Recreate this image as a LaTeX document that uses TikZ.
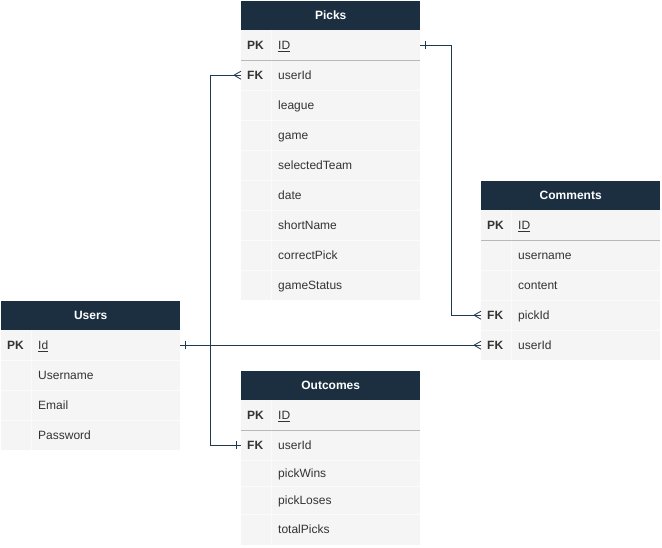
\documentclass[tikz,border=0pt]{standalone}
\usepackage{fontspec}
\setmainfont{Liberation Sans}
\begin{document}
\begin{tikzpicture}[x=1pt,y=-1pt,
  hdr/.style={fill=hdrcol, draw=none, text=white, font=\bfseries\fontsize{12}{14}\selectfont, minimum width=179pt, minimum height=29pt, inner sep=0pt, anchor=north west},
  rowbox/.style={fill=bodycol, draw=none, minimum width=179pt, inner sep=0pt, anchor=north west},
  keytxt/.style={font=\bfseries\fontsize{12}{14}\selectfont, text=txtcol, anchor=base west, inner sep=0pt, yshift=-4.3pt},
  fldtxt/.style={font=\fontsize{12}{14}\selectfont, text=txtcol, anchor=base west, inner sep=0pt, yshift=-4.3pt},
  sepline/.style={draw=sepcol, line width=0.8pt},
  faint/.style={draw=white!60!bodycol, line width=0.6pt},
  conn/.style={draw=conncol, line width=0.8pt},
]
\definecolor{hdrcol}{HTML}{1B2F41}
\definecolor{bodycol}{HTML}{F5F5F5}
\definecolor{txtcol}{HTML}{333333}
\definecolor{sepcol}{HTML}{B8B8B8}
\definecolor{conncol}{HTML}{1E3A52}
\useasboundingbox[fill=white] (0,0) rectangle (662,547);

% ---------- Picks ----------
\node[hdr] (picks) at (241,1) {Picks};
\foreach \n/\k/\f [count=\i from 0] in {pid/PK/\underline{ID}, puid/FK/userId, plg//league, pgm//game, pst//selectedTeam, pdt//date, psn//shortName, pcp//correctPick, pgs//gameStatus}{
  \node[rowbox, minimum height=30pt] (\n) at (241,30+30*\i) {};
  \node[keytxt] (\n-k) at (247,45+30*\i) {\k};
  \node[fldtxt] (\n-f) at (278,45+30*\i) {\f};
}
\draw[faint] (271,30) -- (271,300);
\foreach \yy in {90,120,...,270} \draw[faint] (241,\yy) -- (420,\yy);
\draw[sepline] (241,60) -- (420,60);

% ---------- Comments ----------
\node[hdr] (comments) at (481,181) {Comments};
\foreach \n/\k/\f [count=\i from 0] in {cid/PK/\underline{ID}, cun//username, cct//content, cpk/FK/pickId, cuid/FK/userId}{
  \node[rowbox, minimum height=30pt] (\n) at (481,210+30*\i) {};
  \node[keytxt] (\n-k) at (487,225+30*\i) {\k};
  \node[fldtxt] (\n-f) at (518,225+30*\i) {\f};
}
\draw[faint] (511,210) -- (511,360);
\foreach \yy in {270,300,330} \draw[faint] (481,\yy) -- (660,\yy);
\draw[sepline] (481,240) -- (660,240);

% ---------- Users ----------
\node[hdr] (users) at (1,301) {Users};
\foreach \n/\k/\f [count=\i from 0] in {uid/PK/\underline{Id}, uun//Username, uem//Email, upw//Password}{
  \node[rowbox, minimum height=30pt] (\n) at (1,330+30*\i) {};
  \node[keytxt] (\n-k) at (7,345+30*\i) {\k};
  \node[fldtxt] (\n-f) at (38,345+30*\i) {\f};
}
\draw[faint] (31,330) -- (31,450);
\foreach \yy in {360,390,420} \draw[faint] (1,\yy) -- (180,\yy);

% ---------- Outcomes ----------
\node[hdr] (outcomes) at (241,371) {Outcomes};
\node[rowbox, minimum height=30pt] (oid) at (241,400) {};
\node[keytxt] (oid-k) at (247,415) {PK};
\node[fldtxt] (oid-f) at (278,415) {\underline{ID}};
\node[rowbox, minimum height=30pt] (ouid) at (241,430) {};
\node[keytxt] (ouid-k) at (247,445) {FK};
\node[fldtxt] (ouid-f) at (278,445) {userId};
\node[rowbox, minimum height=26pt] (opw) at (241,460) {};
\node[fldtxt] (opw-f) at (278,473) {pickWins};
\node[rowbox, minimum height=28pt] (opl) at (241,486) {};
\node[fldtxt] (opl-f) at (278,500) {pickLoses};
\node[rowbox, minimum height=31pt] (otp) at (241,514) {};
\node[fldtxt] (otp-f) at (278,529.5) {totalPicks};
\draw[faint] (271,400) -- (271,545);
\foreach \yy in {460,486,514} \draw[faint] (241,\yy) -- (420,\yy);
\draw[sepline] (241,430) -- (420,430);

% ---------- connectors ----------
\coordinate (j1) at (451,0);
\coordinate (j2) at (210,0);
% Picks.ID -> Comments.pickId
\draw[conn] (pid.east) -- (pid.east -| j1) -- (cpk.west -| j1) -- (cpk.west);
\draw[conn] ([xshift=5pt,yshift=-4pt]pid.east) -- ([xshift=5pt,yshift=4pt]pid.east);
\draw[conn] ([xshift=-7pt]cpk.west) -- ([yshift=-4pt]cpk.west);
\draw[conn] ([xshift=-7pt]cpk.west) -- ([yshift=4pt]cpk.west);
% Users.Id -> Comments.userId
\draw[conn] (uid.east) -- (cuid.west);
\draw[conn] ([xshift=5pt,yshift=-4pt]uid.east) -- ([xshift=5pt,yshift=4pt]uid.east);
\draw[conn] ([xshift=-7pt]cuid.west) -- ([yshift=-4pt]cuid.west);
\draw[conn] ([xshift=-7pt]cuid.west) -- ([yshift=4pt]cuid.west);
% Users.Id -> Picks.userId and Outcomes.userId
\draw[conn] (uid.east -| j2) -- (puid.west -| j2) -- (puid.west);
\draw[conn] (uid.east -| j2) -- (ouid.west -| j2) -- (ouid.west);
\draw[conn] ([xshift=-7pt]puid.west) -- ([yshift=-4pt]puid.west);
\draw[conn] ([xshift=-7pt]puid.west) -- ([yshift=4pt]puid.west);
\draw[conn] ([xshift=-5pt,yshift=-4pt]ouid.west) -- ([xshift=-5pt,yshift=4pt]ouid.west);
\end{tikzpicture}
\end{document}
